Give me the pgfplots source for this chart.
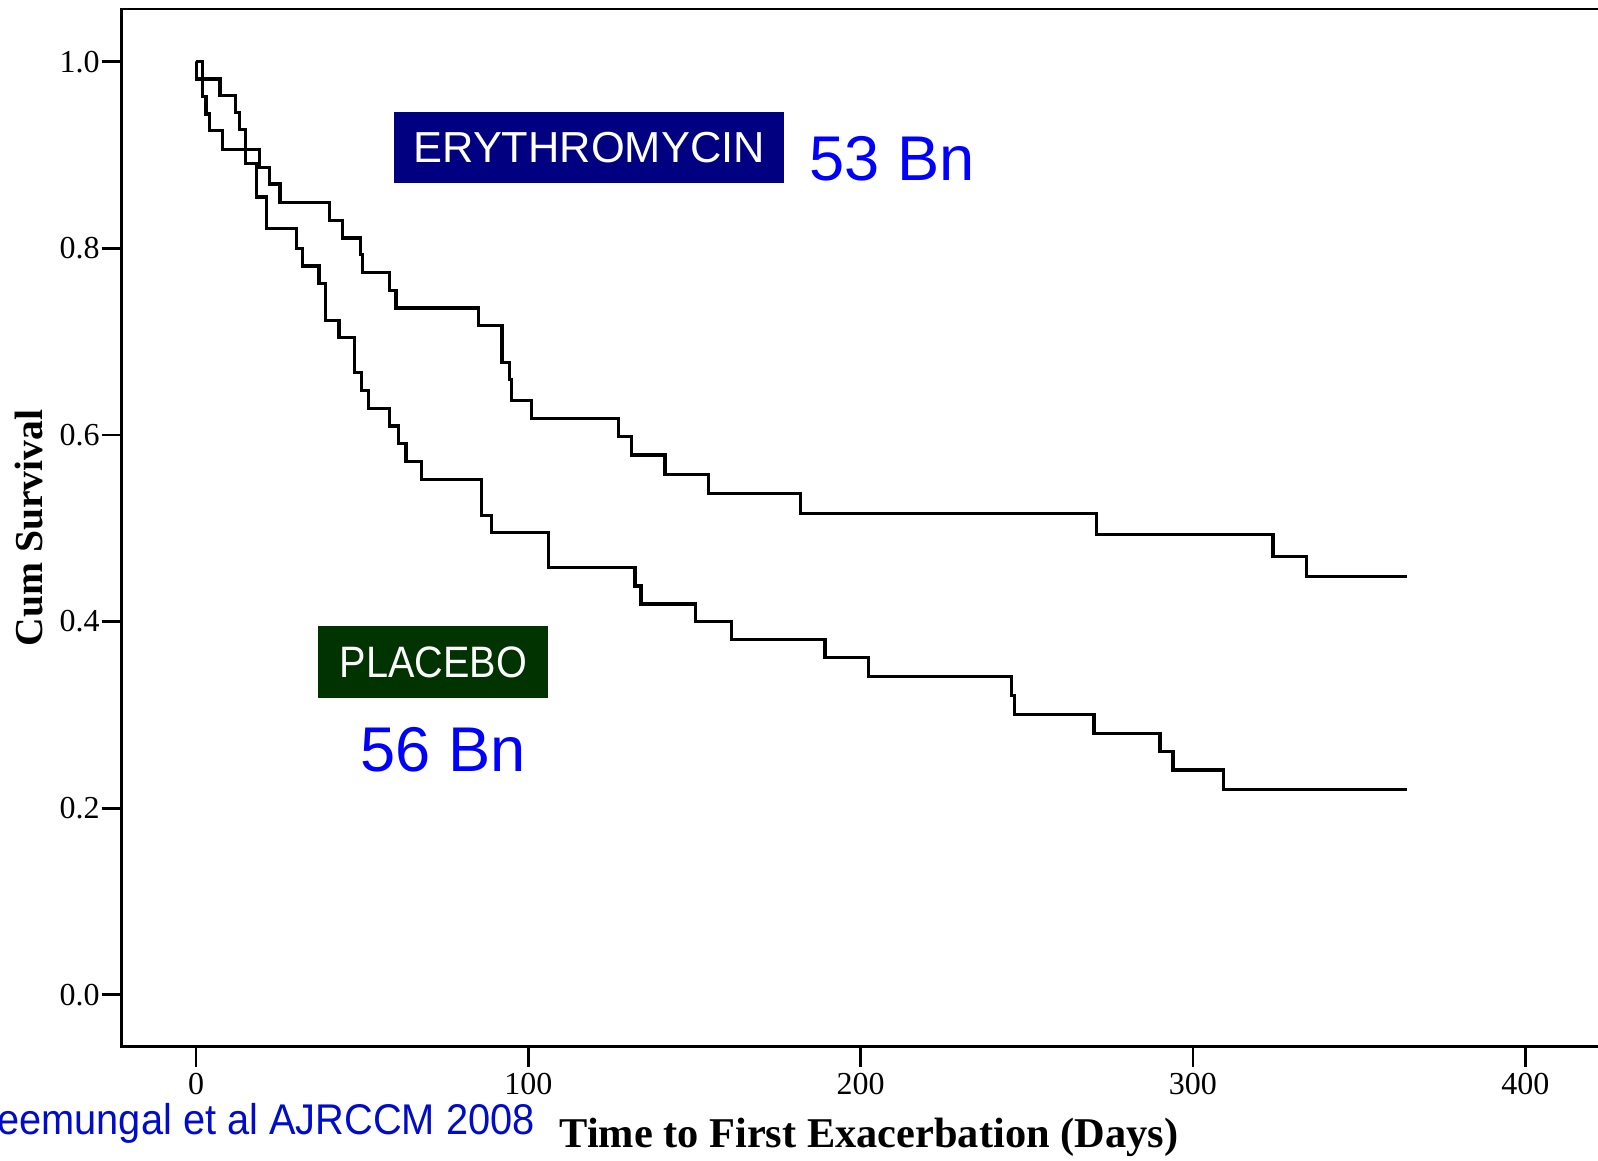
\documentclass[border=0pt]{standalone}
\usepackage{fontspec}
\setmainfont{Liberation Serif}
\newfontfamily\arialfont{Liberation Sans}
\usepackage{graphicx}
\usepackage{pgfplots}
\pgfplotsset{compat=1.18}
\definecolor{navybox}{RGB}{0,0,128}
\definecolor{greenbox}{RGB}{0,51,0}
\definecolor{nblue}{RGB}{0,0,255}
\definecolor{citeblue}{RGB}{0,12,200}

\begin{document}
\begin{tikzpicture}
\useasboundingbox (-30.425pt,-28.325pt) rectangle (369.075pt,261.675pt);
\clip (-30.425pt,-28.325pt) rectangle (369.075pt,261.675pt);
\begin{axis}[
  at={(0,0)}, anchor=south west,
  scale only axis,
  width=373.575pt, height=259.425pt,
  xmin=-22.36, xmax=427.3,
  ymin=-0.0557, ymax=1.0565,
  xtick={0,100,200,300,400},
  ytick={0,0.2,0.4,0.6,0.8,1.0},
  yticklabel style={/pgf/number format/fixed, /pgf/number format/fixed zerofill, /pgf/number format/precision=1, inner xsep=0.3pt},
  xticklabel style={inner ysep=1.4pt},
  /pgf/number format/assume math mode=true,
  tick pos=left,
  tick align=outside,
  major tick length=5pt,
  every tick/.style={black, line width=0.7pt},
  axis line style={line width=0.7pt},
  ticklabel style={font=\fontsize{8}{9.6}\selectfont},
  xlabel={Time to First Exacerbation (Days)},
  ylabel={Cum Survival},
  xlabel style={font=\fontsize{10.6}{12}\selectfont\bfseries, at={(axis description cs:0.5,-0.0976)}, anchor=base},
  ylabel style={font=\fontsize{9.9}{12}\selectfont\bfseries, at={(axis description cs:-0.0527,0.5)}, anchor=base},
  clip=false,
]
% Erythromycin
\addplot[const plot, black, line width=0.8pt] coordinates {
(0,1.0) (0.2,0.9815) (7.2,0.964) (12.0,0.946) (13.2,0.9275) (15.0,0.906)
(19.1,0.887) (22.1,0.869) (25.3,0.849) (40.1,0.830) (44.1,0.811)
(49.4,0.793) (50.2,0.774) (58.2,0.755) (60.2,0.736) (85.1,0.717)
(92.1,0.6775) (94.3,0.6595) (94.9,0.637) (101.0,0.618) (127.1,0.598)
(131.1,0.5785) (141.1,0.558) (154.2,0.537) (182.0,0.516) (271.0,0.4935)
(324.1,0.470) (334.1,0.4485) (364.3,0.4485)
};
% Placebo
\addplot[const plot, black, line width=0.8pt] coordinates {
(0,1.0) (2.0,0.9625) (3.0,0.944) (4.0,0.926) (8.0,0.906) (15.0,0.891)
(18.3,0.855) (21.1,0.821) (30.3,0.800) (32.1,0.781) (37.0,0.7625)
(39.0,0.723) (43.0,0.7046) (47.8,0.6667) (49.9,0.648) (51.9,0.6285)
(58.2,0.6095) (60.9,0.591) (63.2,0.5713) (67.9,0.5524) (86.0,0.514)
(89.0,0.495) (106.0,0.4577) (132.1,0.438) (133.9,0.4187) (150.2,0.400)
(161.2,0.381) (189.3,0.3616) (202.3,0.341) (245.3,0.321) (246.3,0.3005)
(270.2,0.280) (290.1,0.2605) (294.0,0.2408) (309.2,0.220) (364.3,0.220)
};
\node[fill=navybox, text=white, minimum width=97.5pt, minimum height=17.75pt, inner sep=0pt,
  font=\arialfont\fontsize{10.85}{12}\selectfont] at (axis cs:118.3,0.9077) {ERYTHROMYCIN};
\node[anchor=base west, inner sep=0pt, text=nblue, font=\arialfont\fontsize{15.8}{18}\selectfont]
  at (axis cs:184.4,0.8732) {53 Bn};
\node[fill=greenbox, text=white, minimum width=57.5pt, minimum height=17.9pt, inner sep=0pt,
  font=\arialfont\fontsize{11}{12}\selectfont] at (axis cs:71.4,0.3567) {\scalebox{0.9}[1]{PLACEBO}};
\node[anchor=base west, inner sep=0pt, text=nblue, font=\arialfont\fontsize{15.8}{18}\selectfont]
  at (axis cs:49.35,0.239) {56 Bn};
\node[anchor=base east, inner sep=0pt, text=citeblue, font=\arialfont\fontsize{9.95}{11}\selectfont]
  at (axis cs:102.2,-0.1494) {\scalebox{1}[1.08]{Seemungal et al AJRCCM 2008}};
\end{axis}
\end{tikzpicture}
\end{document}
